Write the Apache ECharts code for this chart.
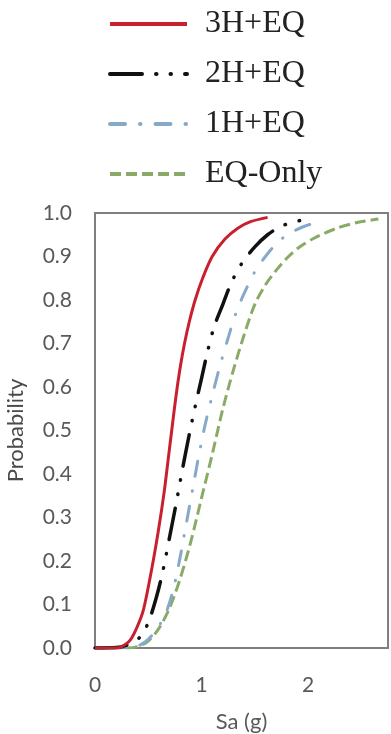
<!DOCTYPE html>
<html>
<head>
<meta charset="utf-8">
<script src="https://cdn.jsdelivr.net/npm/echarts@6/dist/echarts.min.js"></script>
<style>
  html, body { margin: 0; padding: 0; background: #ffffff; }
  #chart { width: 391px; height: 734px; }
</style>
</head>
<body>
<div id="chart"></div>
<script>
// Fragility curves: probability of exceedance vs spectral acceleration Sa (g)
const seriesNames = ['3H+EQ', '2H+EQ', '1H+EQ', 'EQ-Only'];

const sa3H = [0, 0.20, 0.25, 0.33, 0.395, 0.455, 0.535, 0.595, 0.65, 0.69, 0.72, 0.745, 0.772, 0.803, 0.84, 0.885, 0.94, 1.01, 1.10, 1.22, 1.34, 1.46, 1.62];
const p3H  = [0, 0.000, 0.003, 0.018, 0.048, 0.088, 0.185, 0.27, 0.36, 0.44, 0.50, 0.55, 0.60, 0.65, 0.70, 0.75, 0.80, 0.85, 0.90, 0.94, 0.965, 0.98, 0.99];

const sa2H = [0, 0.20, 0.35, 0.44, 0.51, 0.58, 0.64, 0.70, 0.76, 0.82, 0.88, 0.94, 1.00, 1.06, 1.12, 1.20, 1.28, 1.38, 1.50, 1.62, 1.75, 1.88, 2.02];
const p2H  = [0, 0.001, 0.012, 0.03, 0.065, 0.12, 0.18, 0.255, 0.33, 0.41, 0.485, 0.555, 0.62, 0.685, 0.74, 0.79, 0.84, 0.885, 0.922, 0.95, 0.97, 0.98, 0.988];

const sa1H = [0, 0.30, 0.40, 0.50, 0.60, 0.68, 0.74, 0.80, 0.86, 0.92, 0.98, 1.04, 1.10, 1.16, 1.24, 1.32, 1.40, 1.50, 1.60, 1.72, 1.84, 1.96, 2.10];
const p1H  = [0, 0.000, 0.004, 0.02, 0.05, 0.09, 0.14, 0.21, 0.29, 0.37, 0.45, 0.52, 0.58, 0.637, 0.705, 0.768, 0.815, 0.865, 0.90, 0.934, 0.955, 0.969, 0.98];

const saEQ = [0, 0.30, 0.40, 0.50, 0.60, 0.70, 0.80, 0.90, 1.00, 1.10, 1.20, 1.30, 1.40, 1.50, 1.60, 1.70, 1.80, 1.92, 2.08, 2.27, 2.46, 2.66];
const pEQ  = [0, 0.000, 0.003, 0.016, 0.045, 0.092, 0.16, 0.245, 0.345, 0.445, 0.55, 0.64, 0.72, 0.79, 0.835, 0.868, 0.896, 0.922, 0.945, 0.965, 0.978, 0.986];

const xTicks = [0, 1, 2];

function pairs(xs, ys) {
  return xs.map((x, i) => [x, ys[i]]);
}

const sansFont = 'Lato, "Open Sans", sans-serif';
const serifFont = '"Liberation Serif", "DejaVu Serif", serif';

const chart = echarts.init(document.getElementById('chart'), null, { renderer: 'canvas' });

const lineBase = { type: 'line', symbol: 'none', smooth: 0.3, clip: true };

chart.setOption({
  backgroundColor: '#ffffff',
  animation: false,
  legend: {
    orient: 'vertical',
    left: 103,
    top: 3,
    itemWidth: 77,
    itemHeight: 14,
    itemGap: 18,
    data: seriesNames,
    itemStyle: { color: 'transparent', borderColor: 'transparent', borderWidth: 0 },
    lineStyle: { width: 4 },
    textStyle: {
      fontFamily: serifFont,
      fontSize: 32,
      color: '#222222',
      padding: [0, 0, 0, 13]
    }
  },
  grid: {
    left: 95,
    right: 3,
    top: 213,
    bottom: 86,
    outerBoundsMode: 'none',
    containLabel: false,
    show: true,
    borderColor: '#7f7f7f',
    borderWidth: 2,
    backgroundColor: '#ffffff'
  },
  xAxis: {
    type: 'value',
    min: 0,
    max: 2.75,
    interval: 1,
    name: 'Sa (g)',
    nameLocation: 'middle',
    nameGap: 63,
    nameTextStyle: { fontFamily: sansFont, fontSize: 22, color: '#595959' },
    axisLine: { show: false },
    axisTick: { show: false },
    splitLine: { show: false },
    axisLabel: {
      fontFamily: sansFont,
      fontSize: 21,
      color: '#595959',
      margin: 27,
      showMaxLabel: false,
      formatter: v => (xTicks.indexOf(v) >= 0 ? String(v) : '')
    }
  },
  yAxis: {
    type: 'value',
    min: 0,
    max: 1,
    interval: 0.1,
    name: 'Probability',
    nameLocation: 'middle',
    nameGap: 68,
    nameTextStyle: { fontFamily: sansFont, fontSize: 22, color: '#4a4a4a' },
    axisLine: { show: false },
    axisTick: { show: false },
    splitLine: { show: false },
    axisLabel: {
      fontFamily: sansFont,
      fontSize: 21,
      color: '#595959',
      margin: 23,
      formatter: v => v.toFixed(1)
    }
  },
  series: [
    Object.assign({}, lineBase, {
      name: seriesNames[0],
      data: pairs(sa3H, p3H),
      z: 5,
      lineStyle: { color: '#c8202e', width: 3, type: 'solid' },
      itemStyle: { color: '#c8202e' }
    }),
    Object.assign({}, lineBase, {
      name: seriesNames[1],
      data: pairs(sa2H, p2H),
      z: 4,
      lineStyle: { color: '#111111', width: 3.5, type: [32, 14, 0.5, 14, 0.5, 14], cap: 'round' },
      itemStyle: { color: '#111111' }
    }),
    Object.assign({}, lineBase, {
      name: seriesNames[2],
      data: pairs(sa1H, p1H),
      z: 3,
      lineStyle: { color: '#86a9c9', width: 3, type: [15, 15, 0.5, 15], cap: 'round' },
      itemStyle: { color: '#86a9c9' }
    }),
    Object.assign({}, lineBase, {
      name: seriesNames[3],
      data: pairs(saEQ, pEQ),
      z: 2,
      lineStyle: { color: '#8aab68', width: 3, type: [11, 5] },
      itemStyle: { color: '#8aab68' }
    })
  ]
});
</script>
</body>
</html>
